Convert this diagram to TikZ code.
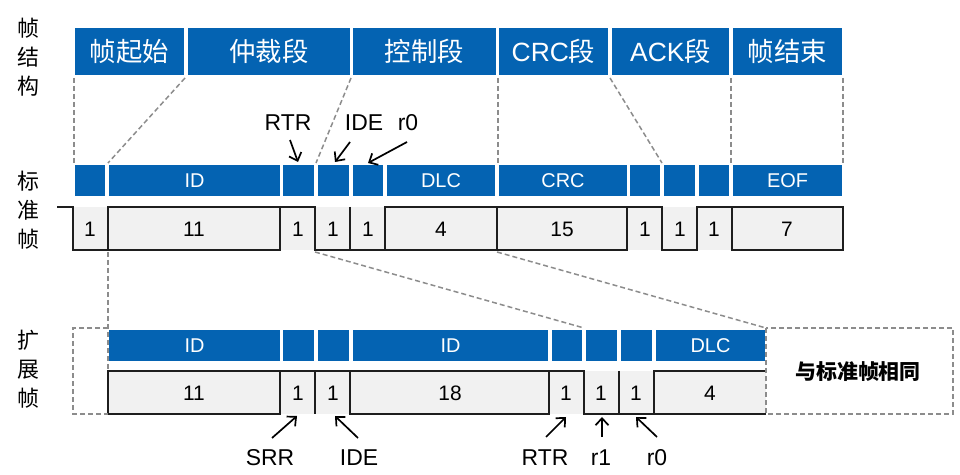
\documentclass[tikz,border=0pt]{standalone}
\usepackage{fontspec}
\setmainfont{Liberation Sans}
\newfontfamily\cjk{Noto Sans CJK SC}
\usetikzlibrary{arrows.meta}
\definecolor{canblue}{RGB}{4,99,178}
\definecolor{cellgray}{RGB}{241,241,241}
\definecolor{dashgray}{RGB}{140,140,140}
\definecolor{waveblack}{RGB}{30,30,30}
\newcommand\fld[7][]{\node[#1, minimum width={(#4-#3)*1bp}, minimum height={(#6-#5)*1bp}] (#2) at ({(#3+#4)/2},{(#5+#6)/2}) {#7};}
\begin{document}
\begin{tikzpicture}[x=1bp,y=-1bp,
  segbox/.style={fill=canblue, text=white, inner sep=0pt, outer sep=0pt, font=\fontsize{26.5}{26.5}\selectfont},
  bitbox/.style={fill=canblue, text=white, inner sep=0pt, outer sep=0pt, font=\fontsize{20}{20}\selectfont},
  num/.style={inner sep=0pt, font=\fontsize{21}{21}\selectfont},
  wave/.style={draw=waveblack, line width=1.8bp, line join=miter},
  guide/.style={draw=dashgray, line width=1.5bp, dash pattern=on 5bp off 3bp},
  lbl/.style={inner sep=1bp, font=\fontsize{23}{23}\selectfont},
  side/.style={inner sep=0pt, align=center, font=\fontsize{22}{29}\selectfont\cjk},
  ptr/.style={draw=black, line width=1.7bp, -{Straight Barb[length=7bp,width=13bp]}}]
\useasboundingbox (0,0) rectangle (960,475);

% side labels
\node[side] (tstruct) at (28,57) {帧\\结\\构};
\node[side] (tstd) at (28,210) {标\\准\\帧};
\node[side] (text) at (28,369) {扩\\展\\帧};

% frame structure row
\fld[segbox]{sof}{75}{184}{28}{75}{\cjk 帧起始}
\fld[segbox]{arb}{188}{350}{28}{75}{\cjk 仲裁段}
\fld[segbox]{ctl}{353}{496}{28}{75}{\cjk 控制段}
\fld[segbox]{crcs}{499}{608}{28}{75}{CRC{\cjk 段}}
\fld[segbox]{acks}{612}{729}{28}{75}{ACK{\cjk 段}}
\fld[segbox]{eofs}{733}{842}{28}{75}{\cjk 帧结束}

% standard frame blue row
\fld[bitbox]{s0}{75}{105}{165}{196}{}
\fld[bitbox]{sid}{109}{280}{165}{196}{ID}
\fld[bitbox]{srtr}{283}{314}{165}{196}{}
\fld[bitbox]{side}{318}{349}{165}{196}{}
\fld[bitbox]{sr0}{353}{383}{165}{196}{}
\fld[bitbox]{sdlc}{387}{495}{165}{196}{DLC}
\fld[bitbox]{scrc}{499}{627}{165}{196}{CRC}
\fld[bitbox]{scd}{630}{660}{165}{196}{}
\fld[bitbox]{sack}{664}{695}{165}{196}{}
\fld[bitbox]{sad}{699}{729}{165}{196}{}
\fld[bitbox]{seof}{733}{842}{165}{196}{EOF}

% standard frame waveform
\fill[cellgray] (73,207) rectangle (843,250);
\draw[wave] (57,207) -- (73,207) -- (73,250) -- (108,250);
\draw[wave] (108,207) rectangle (280,250);
\draw[wave] (280,207) -- (315,207) -- (315,250) -- (385,250);
\draw[wave] (350,207) -- (350,250);
\draw[wave] (385,207) rectangle (497,250);
\draw[wave] (497,207) rectangle (627,250);
\draw[wave] (627,207) -- (662,207) -- (662,250) -- (697,250) -- (697,207) -- (732,207);
\draw[wave] (732,207) rectangle (843,250);
\node[num] (n1) at (90,229) {1};
\node[num] (n2) at (194,229) {11};
\node[num] (n3) at (298,229) {1};
\node[num] (n4) at (333,229) {1};
\node[num] (n5) at (368,229) {1};
\node[num] (n6) at (441,229) {4};
\node[num] (n7) at (562,229) {15};
\node[num] (n8) at (645,229) {1};
\node[num] (n9) at (680,229) {1};
\node[num] (n10) at (714,229) {1};
\node[num] (n11) at (787,229) {7};

% guides top -> standard
\draw[guide] (sof.south west) ++(-1,3) -- ([xshift=-1bp,yshift=2bp]s0.north west);
\draw[guide] ([xshift=1bp,yshift=-3bp]sof.south east) -- ([xshift=-1bp,yshift=2bp]sid.north west);
\draw[guide] ([xshift=-2bp,yshift=-3bp]ctl.south west) -- ([xshift=-2bp,yshift=2bp]side.north west);
\draw[guide] ([xshift=-1bp,yshift=-3bp]crcs.south west) -- ([xshift=-1bp,yshift=2bp]scrc.north west);
\draw[guide] ([xshift=-2bp,yshift=-3bp]acks.south west) -- ([xshift=-2bp,yshift=2bp]sack.north west);
\draw[guide] ([xshift=-2bp,yshift=-3bp]eofs.south west) -- ([xshift=-2bp,yshift=2bp]seof.north west);
\draw[guide] ([xshift=1bp,yshift=-3bp]eofs.south east) -- ([xshift=1bp,yshift=2bp]seof.north east);

% standard labels
\node[lbl] (lrtr) at (288,123) {RTR};
\node[lbl] (lide) at (364,123) {IDE};
\node[lbl] (lr0) at (408,123) {r0};
\coordinate (artrs) at (290,140); \coordinate (artre) at (298,162);
\coordinate (aides) at (350,142); \coordinate (aidee) at (335,162);
\coordinate (ar0s) at (407,142);  \coordinate (ar0e) at (368,163);
\draw[ptr] (artrs) -- (artre);
\draw[ptr] (aides) -- (aidee);
\draw[ptr] (ar0s) -- (ar0e);

% extended frame blue row
\fld[bitbox]{eid}{109}{280}{330}{361}{ID}
\fld[bitbox]{esrr}{283}{314}{330}{361}{}
\fld[bitbox]{eide}{318}{349}{330}{361}{}
\fld[bitbox]{eid2}{353}{548}{330}{361}{ID}
\fld[bitbox]{ertr}{552}{582}{330}{361}{}
\fld[bitbox]{er1}{586}{617}{330}{361}{}
\fld[bitbox]{er0}{621}{652}{330}{361}{}
\fld[bitbox]{edlc}{656}{765}{330}{361}{DLC}

% extended waveform
\fill[cellgray] (108,371) rectangle (766,414);
\draw[wave] (108,371) rectangle (280,414);
\draw[wave] (280,371) -- (350,371);
\draw[wave] (315,371) -- (315,414);
\draw[wave] (350,371) rectangle (549,414);
\draw[wave] (549,371) -- (584,371) -- (584,414) -- (654,414);
\draw[wave] (619,371) -- (619,414);
\draw[wave] (766,371) -- (654,371) -- (654,414) -- (766,414);
\node[num] (m1) at (194,393) {11};
\node[num] (m2) at (298,393) {1};
\node[num] (m3) at (333,393) {1};
\node[num] (m4) at (450,393) {18};
\node[num] (m5) at (566,393) {1};
\node[num] (m6) at (601,393) {1};
\node[num] (m7) at (636,393) {1};
\node[num] (m8) at (710,393) {4};

% guides standard -> extended
\coordinate (g1s) at (108,252); \coordinate (g1e) at (108,371);
\coordinate (g2s) at (315,252); \coordinate (g2e) at (584,328);
\coordinate (g3s) at (497,252); \coordinate (g3e) at (766,328);
\draw[guide] (g1s) -- (g1e);
\draw[guide] (g2s) -- (g2e);
\draw[guide] (g3s) -- (g3e);
\draw[guide] (108,328) -- (73,328) -- (73,414) -- (108,414);
\draw[guide] (766,328) rectangle (953,414);
\node[inner sep=0pt, font=\fontsize{21}{21}\selectfont\cjk\bfseries] (same) at (858,372) {与标准帧相同};

% extended labels
\node[lbl] (lsrr) at (270,458) {SRR};
\node[lbl] (leide) at (359,458) {IDE};
\node[lbl] (lertr) at (545,458) {RTR};
\node[lbl] (ler1) at (601,458) {r1};
\node[lbl] (ler0) at (657,458) {r0};
\coordinate (bsrrs) at (272,438); \coordinate (bsrre) at (297,416);
\coordinate (bides) at (358,438); \coordinate (bidee) at (335,416);
\coordinate (brtrs) at (546,437); \coordinate (brtre) at (566,417);
\coordinate (br1s) at (602,437);  \coordinate (br1e) at (602,417);
\coordinate (br0s) at (657,437);  \coordinate (br0e) at (636,417);
\draw[ptr] (bsrrs) -- (bsrre);
\draw[ptr] (bides) -- (bidee);
\draw[ptr] (brtrs) -- (brtre);
\draw[ptr] (br1s) -- (br1e);
\draw[ptr] (br0s) -- (br0e);
\end{tikzpicture}
\end{document}
